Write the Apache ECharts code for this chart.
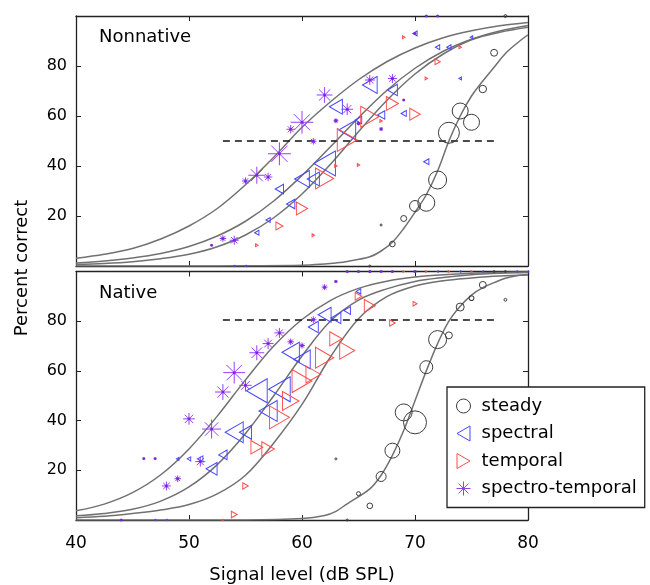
<!DOCTYPE html>
<html><head><meta charset="utf-8">
<script src="https://cdn.jsdelivr.net/npm/echarts@6/dist/echarts.min.js"></script>
<style>html,body{margin:0;padding:0;background:#fff}#c{width:650px;height:585px}</style>
</head><body><div id="c"></div>
<script>
// ---------- tick / category definitions ----------
const conditions = ['steady', 'spectral', 'temporal', 'spectro-temporal'];
const panelNames = ['Nonnative', 'Native'];
const xTicks = [40, 50, 60, 70, 80];
const yTicks = [20, 40, 60, 80];

// ---------- Nonnative (top panel) data points: x = dB SPL, y = % correct, n = trial count ----------
const nnSteadyX = [66, 67, 68, 69, 70, 71, 72, 73, 74, 75, 76, 77, 78];
const nnSteadyY = [0, 16.4, 8.8, 19, 24, 25.3, 34.4, 53.3, 62, 57.5, 70.8, 85.3, 100];
const nnSteadyN = [1, 1, 8, 9, 30, 72, 81, 110, 64, 64, 14, 12, 2];

const nnSpectralX = [54, 55, 56, 57, 58, 59, 60, 61, 62, 63, 64, 65, 66, 67, 68, 69, 70, 71, 72, 73, 74, 75];
const nnSpectralY = [0, 0, 13.3, 18.4, 30.8, 24.8, 34.8, 34.8, 41, 63.7, 54.4, 58.4, 72.4, 60.4, 70.4, 61, 93, 41.7, 87.5, 87.5, 75, 91.5];
const nnSpectralN = [1, 1, 6, 6, 23, 23, 72, 49, 156, 56, 96, 14, 72, 18, 33, 9, 6, 9, 6, 6, 2, 2];

const nnTemporalX = [56, 58, 60, 61, 62, 63, 64, 65, 66, 67, 68, 69, 70, 71, 72, 74];
const nnTemporalY = [8.3, 16, 23, 12.3, 35, 40, 50.4, 40.4, 59.7, 58, 65, 91.5, 60.7, 75, 81.7, 87.5];
const nnTemporalN = [2, 16, 42, 2, 110, 2, 132, 2, 110, 2, 49, 2, 36, 2, 9, 2];

const nnSpecTempX = [52, 53, 54, 55, 56, 57, 58, 59, 60, 61, 62, 63, 64, 65, 66, 67, 68, 69, 70, 71, 72];
const nnSpecTempY = [8.3, 11, 10.3, 34, 36.3, 35.6, 44.9, 54.7, 57.5, 49.9, 68.4, 58.1, 62.7, 57, 74.4, 54.8, 75, 66.4, 93, 100, 100];
const nnSpecTempN = [1, 11, 20, 13, 72, 18, 132, 18, 129, 11, 62, 6, 34, 4, 25, 4, 20, 1, 1, 1, 1];

// ---------- Native (bottom panel) data points ----------
const nvSteadyX = [63, 64, 65, 66, 67, 68, 69, 70, 71, 72, 73, 74, 75, 76, 77, 78, 78];
const nvSteadyY = [24.6, 0, 10.6, 5.7, 17.5, 27.9, 43.3, 39.3, 61.5, 72.6, 74.3, 85.7, 89.3, 94.6, 100, 88.6, 100];
const nvSteadyN = [1, 1, 4, 8, 25, 56, 72, 132, 42, 81, 12, 16, 6, 12, 1, 2, 1];

const nvSpectralX = [47, 48, 49, 50, 51, 52, 53, 54, 55, 56, 57, 58, 59, 60, 61, 62, 63, 64, 65, 66, 70, 72, 74, 76, 79, 80];
const nvSpectralY = [0, 0, 24.6, 24.6, 24.6, 20.6, 26.2, 35.3, 35.3, 52, 43.9, 52.6, 67.5, 64.6, 77.7, 82.6, 81.3, 84.3, 92, 100, 100, 100, 100, 100, 100, 100];
const nvSpectralN = [1, 1, 2, 4, 9, 40, 23, 108, 49, 144, 110, 156, 100, 90, 33, 56, 33, 15, 7, 1, 1, 1, 1, 1, 1, 1];

const nvTemporalX = [53, 54, 55, 56, 57, 58, 59, 60, 61, 62, 63, 64, 65, 66, 68, 69, 70, 71, 73, 75];
const nvTemporalY = [0, 2.2, 13.7, 29.3, 28.6, 41.3, 47.9, 55.9, 58.6, 65.3, 72.9, 68.2, 90, 86.2, 79.3, 100, 87, 100, 100, 100];
const nvTemporalN = [1, 11, 10, 46, 53, 132, 90, 132, 72, 110, 50, 75, 15, 40, 10, 1, 5, 1, 1, 1];

const nvSpecTempX = [44, 46, 47, 48, 49, 50, 51, 52, 53, 54, 55, 56, 57, 58, 59, 60, 61, 62, 63, 64, 65, 66, 67, 68, 70];
const nvSpecTempY = [0, 24.7, 24.7, 13.7, 16.6, 40.7, 23.5, 36.6, 51.5, 59.3, 54.2, 67.3, 71, 75.3, 71.7, 70.2, 80.6, 93.7, 96, 100, 100, 100, 100, 100, 100];
const nvSpecTempN = [1, 1, 1, 20, 11, 34, 25, 90, 62, 118, 38, 56, 30, 25, 11, 9, 11, 9, 2, 1, 1, 1, 1, 1, 1];

// ---------- fitted psychometric curves ----------
const curveX = [40, 42.5, 45, 47.5, 50, 52.5, 55, 57.5, 60, 62.5, 65, 67.5, 70, 72.5, 75, 77.5, 80];
const nnCurveSpecTemp = [3.1, 4.7, 7.0, 10.8, 16, 23, 32.5, 43.5, 55.5, 65.6, 74.5, 81.7, 87.2, 91.3, 94.1, 96.1, 97.4];
const nnCurveSpectral = [1.2, 2.0, 3.2, 5.0, 7.8, 12.0, 17.9, 26.0, 36.2, 47.6, 59.3, 70.2, 79.1, 85.9, 90.7, 94.0, 96.2];
const nnCurveTemporal = [0.6, 1.0, 1.7, 2.9, 4.7, 7.7, 12.4, 19.3, 28.8, 40.6, 53.7, 66.2, 76.8, 84.8, 90.5, 93.5, 95.5];
const nvCurveSpecTemp = [3.7, 6.4, 11.0, 18.2, 28.6, 41.8, 56.4, 70.0, 80.7, 88.3, 93.2, 96.1, 97.8, 98.7, 99.3, 99.6, 99.8];
const nvCurveSpectral = [1.7, 2.6, 4.3, 7.6, 13.3, 22.3, 34.8, 50, 66, 80, 88.5, 93, 96, 97.6, 98.7, 99.3, 99.6];
const nvCurveTemporal = [0.9, 1.5, 2.6, 4, 6.2, 10.5, 18, 31, 46.5, 65.5, 81, 89.9, 94.2, 96.3, 97.4, 98.2, 98.6];

const steadyCurveX = [40, 50, 55, 60, 62, 63, 64, 66, 67, 68, 69, 70, 71, 72, 73, 74, 75, 76, 77, 78, 79, 80];
const nnCurveSteady = [0, 0, 0.1, 0.3, 0.8, 1.2, 1.8, 3.7, 6, 9.5, 15, 21.5, 28.5, 38, 50, 60, 68, 74, 79.5, 85, 89, 92.5];
const nvCurveSteady = [0, 0, 0.05, 0.6, 1.8, 3.5, 6.5, 12.5, 18, 26, 36, 48, 60, 71, 80, 86, 90.5, 93.5, 95.5, 97.3, 98.3, 98.8];

// ---------- criterion lines ----------
const criterionX = [53, 77];
const criterionLevels = [50, 80.5];

// ---------- rendering ----------
const FONT = 'DejaVu Sans';
const colors = {
  'steady': '#3c3c3c',
  'spectral': '#4646ff',
  'temporal': '#ff4d4d',
  'spectro-temporal': '#9a3cff'
};
const symbols = {
  'steady': 'circle',
  'spectral': 'path://M8.66,0L0,5L8.66,10Z',
  'temporal': 'path://M0,0L8.66,5L0,10Z',
  'spectro-temporal': 'path://M5,0L5,10M0,5L10,5M1.46,1.46L8.54,8.54M8.54,1.46L1.46,8.54'
};
function sizeFn(cond) {
  return function (v) {
    const s = 2 * Math.sqrt(v[2]);
    if (cond === 'spectral' || cond === 'temporal') return [0.866 * s, s];
    return s;
  };
}
function zip3(xs, ys, ns) { return xs.map((x, i) => [x, ys[i], ns[i]]); }
function zip2(xs, ys) { return xs.map((x, i) => [x, ys[i]]); }

const pointSets = [
  [0, 'steady', nnSteadyX, nnSteadyY, nnSteadyN],
  [0, 'spectral', nnSpectralX, nnSpectralY, nnSpectralN],
  [0, 'temporal', nnTemporalX, nnTemporalY, nnTemporalN],
  [0, 'spectro-temporal', nnSpecTempX, nnSpecTempY, nnSpecTempN],
  [1, 'steady', nvSteadyX, nvSteadyY, nvSteadyN],
  [1, 'spectral', nvSpectralX, nvSpectralY, nvSpectralN],
  [1, 'temporal', nvTemporalX, nvTemporalY, nvTemporalN],
  [1, 'spectro-temporal', nvSpecTempX, nvSpecTempY, nvSpecTempN]
];
const curveSets = [
  [0, curveX, nnCurveSpecTemp], [0, curveX, nnCurveSpectral], [0, curveX, nnCurveTemporal], [0, steadyCurveX, nnCurveSteady],
  [1, curveX, nvCurveSpecTemp], [1, curveX, nvCurveSpectral], [1, curveX, nvCurveTemporal], [1, steadyCurveX, nvCurveSteady]
];

const series = [];
curveSets.forEach(([p, xs, ys]) => {
  series.push({
    type: 'line', xAxisIndex: p, yAxisIndex: p, data: zip2(xs, ys),
    smooth: 0.35, showSymbol: false, symbol: 'none', silent: true, z: 1,
    lineStyle: { color: '#717171', width: 1.5 }
  });
});
criterionLevels.forEach((lvl, p) => {
  series.push({
    type: 'line', xAxisIndex: p, yAxisIndex: p,
    data: criterionX.map(x => [x, lvl]), showSymbol: false, symbol: 'none', silent: true, z: 2,
    lineStyle: { color: '#111', width: 1.5, type: [7, 5] }
  });
});
pointSets.forEach(([p, cond, xs, ys, ns]) => {
  series.push({
    type: 'scatter', name: cond, xAxisIndex: p, yAxisIndex: p, clip: false, z: 3,
    data: zip3(xs, ys, ns), symbol: symbols[cond], symbolSize: sizeFn(cond),
    itemStyle: { color: 'rgba(0,0,0,0)', borderColor: colors[cond], borderWidth: 1, opacity: 1 }
  });
  if (cond === 'spectro-temporal') {
    series.push({
      type: 'scatter', name: 'st-center', xAxisIndex: p, yAxisIndex: p, clip: false, z: 4,
      data: zip3(xs, ys, ns), symbol: 'circle', symbolSize: 3, silent: true,
      itemStyle: { color: '#6f1fd0' }
    });
  }
});

function xAxisDef(gridIndex, pos, showLabels) {
  return {
    type: 'value', gridIndex: gridIndex, position: pos, min: 40, max: 80, interval: 10,
    splitLine: { show: false },
    axisLine: { show: true, onZero: false, lineStyle: { color: '#222', width: 1.3 } },
    axisTick: { show: true, inside: true, length: 5, lineStyle: { color: '#222', width: 1 } },
    axisLabel: {
      show: showLabels, fontFamily: FONT, fontSize: 17, color: '#000', margin: 15,
      formatter: v => (xTicks.indexOf(v) >= 0 ? String(v) : '')
    },
    name: showLabels ? 'Signal level (dB SPL)' : '',
    nameLocation: 'middle', nameGap: 46,
    nameTextStyle: { fontFamily: FONT, fontSize: 18, color: '#000' }
  };
}
function yAxisDef(gridIndex, pos, showLabels) {
  return {
    type: 'value', gridIndex: gridIndex, position: pos, min: 0, max: 100, interval: 20,
    splitLine: { show: false },
    axisLine: { show: true, onZero: false, lineStyle: { color: '#222', width: 1.3 } },
    axisTick: { show: true, inside: true, length: 5, lineStyle: { color: '#222', width: 1 } },
    axisLabel: {
      show: showLabels, fontFamily: FONT, fontSize: 16, color: '#000', margin: 9,
      formatter: v => (yTicks.indexOf(v) >= 0 ? String(v) : '')
    }
  };
}

const option = {
  animation: false,
  backgroundColor: '#fff',
  grid: [
    { left: 76, top: 16, width: 452, height: 250 },
    { left: 76, top: 271.5, width: 452, height: 250 }
  ],
  xAxis: [xAxisDef(0, 'bottom', false), xAxisDef(1, 'bottom', true), xAxisDef(0, 'top', false), xAxisDef(1, 'top', false)],
  yAxis: [yAxisDef(0, 'left', true), yAxisDef(1, 'left', true), yAxisDef(0, 'right', false), yAxisDef(1, 'right', false)],
  legend: {
    data: conditions, orient: 'vertical', left: 447, top: 387,
    backgroundColor: '#fff', borderColor: '#222', borderWidth: 1.3, borderRadius: 0,
    padding: [10, 8, 10, 9], itemGap: 9.5, itemWidth: 14, itemHeight: 15,
    selectedMode: false,
    itemStyle: { borderWidth: 1 },
    textStyle: { fontFamily: FONT, fontSize: 18, color: '#000', padding: [0, 0, 0, 6] }
  },
  graphic: [
    { type: 'text', left: 99, top: 28, style: { text: panelNames[0], font: '18px "DejaVu Sans"', fill: '#000' }, z: 10 },
    { type: 'text', left: 99, top: 284, style: { text: panelNames[1], font: '18px "DejaVu Sans"', fill: '#000' }, z: 10 },
    { type: 'text', x: 22, y: 268, rotation: Math.PI / 2,
      style: { text: 'Percent correct', font: '18px "DejaVu Sans"', fill: '#000', align: 'center', verticalAlign: 'middle' }, z: 10 }
  ],
  series: series
};
const chart = echarts.init(document.getElementById('c'), null, { renderer: 'canvas' });
chart.setOption(option);
</script>
</body></html>
